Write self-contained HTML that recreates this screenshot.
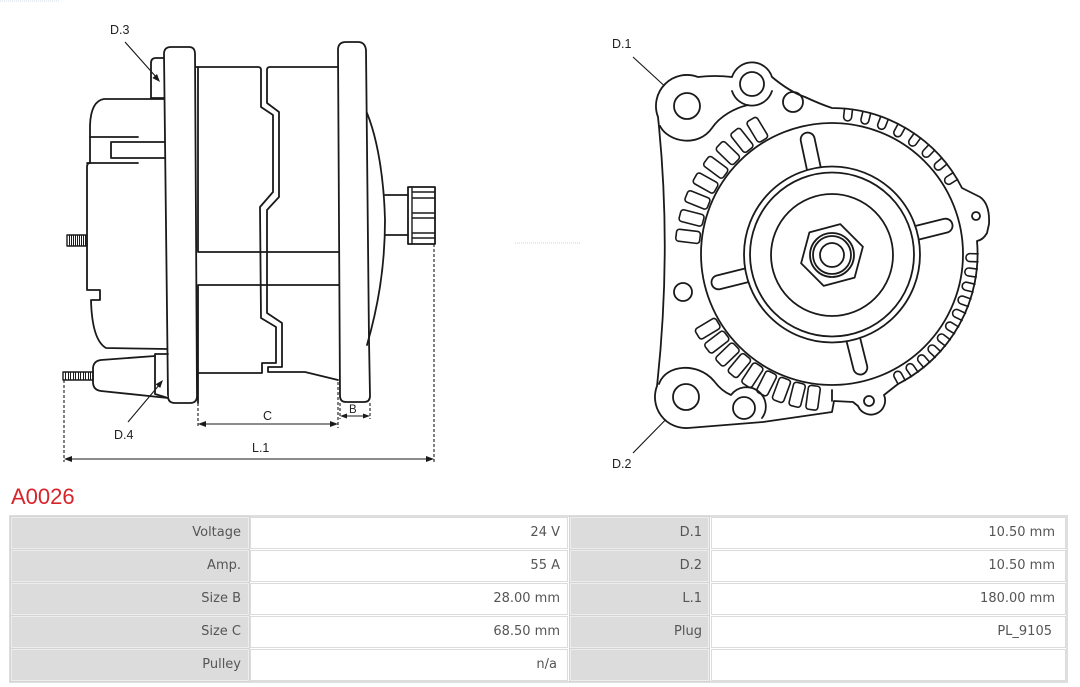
<!DOCTYPE html>
<html><head><meta charset="utf-8">
<style>
html,body{margin:0;padding:0;background:#fff;}
body{width:1080px;height:687px;position:relative;overflow:hidden;font-family:"DejaVu Sans","Liberation Sans",sans-serif;}
svg{position:absolute;left:0;top:0;}
.title{position:absolute;left:11px;top:484px;font:22px "Liberation Sans",sans-serif;color:#d8232a;line-height:26px;}
.tbl{position:absolute;left:9px;top:515px;width:1059px;height:168px;box-sizing:border-box;border:2px solid #dedede;}
.c{position:absolute;box-sizing:border-box;height:32px;line-height:30px;text-align:right;font-size:13px;color:#555;white-space:nowrap;}
.l{background:#dcdcdc;border:1px solid #ededed;box-shadow:0 0 0 1px #d4d4d4;}
.v{background:#fff;border:1px solid #dcdcdc;}
.c1{left:11px;width:238px;padding-right:7px;}
.c2{left:250px;width:318px;padding-right:7px;}
.c3{left:570px;width:139px;padding-right:6px;}
.c4{left:711px;width:355px;padding-right:10px;}
</style></head>
<body>
<svg width="1080" height="480" viewBox="0 0 1080 480" xmlns="http://www.w3.org/2000/svg">
<defs>
<path id="u" d="M978,250 L970,250 A4,4 0 0 0 970,258 L978,258"/>
<rect id="s" x="965" y="248" width="24" height="12" rx="3"/>
</defs>
<line x1="0" y1="1" x2="60" y2="1" stroke="#cfdbe6" stroke-width="1" stroke-dasharray="1 1"/>
<line x1="515" y1="243" x2="580" y2="243" stroke="#d0d0d0" stroke-width="1" stroke-dasharray="1 1"/>
<g fill="none" stroke="#1a1a1a" stroke-width="1.8" stroke-linejoin="round" stroke-linecap="round">
<!-- ===== SIDE VIEW ===== -->
<path d="M164,99 L104,99 Q91,101 90,125 L90,163"/>
<path d="M90,137 L138,137 M111,142 L165,142 M111,142 L111,158 L165,158 M87,163 L138,163"/>
<path d="M90,163 Q87,163 87,167 L87,290 L100,290 L100,300 L91,300 Q92,340 106,348 L168,349"/>
<path d="M164,58 L156,58 Q151,58 151,63 L151,98 L164,98"/>
<!-- top stud -->
<rect x="67" y="235" width="20" height="11" stroke-width="1.4" stroke-linecap="butt"/>
<path stroke-width="1" stroke-linecap="butt" d="M69.5,235V246M71.5,235V246M73.5,235V246M75.5,235V246M77.5,235V246M79.5,235V246M81.5,235V246M83.5,235V246M85.5,235V246"/>
<!-- stator -->
<path d="M198,67 L198,252 M198,252 L340,252 M198,285 L340,285 M198,285 L198,403"/>
<path d="M195,67 L258,67 Q261,67 261,70 L261,107 L273,115 L273,192 L260,207 L261,318 L276,327 L276,363 L262,363 L262,373 L198,373"/>
<path d="M338,67 L270,67 Q267,67 267,70 L267,103 L279,112 L279,197 L267,210 L267,313 L282,323 L282,367 L268,367 L268,372 L305,372 L338,380"/>
<path fill="#fff" d="M164,54 Q164,47 171,47 L189,47 Q195,47 195,54 L197,396 Q197,403 190,403 L175,403 Q168,403 168,396 Z"/>
<path fill="#fff" d="M338,50 Q338,42 346,42 L358,42 Q365,42 366,50 L369,340 L370,396 Q370,402 364,402 L346,402 Q340,402 340,396 Z"/>
<path d="M367,113 C378,140 384,180 385,220 C385,270 377,310 367,345"/>
<path d="M385,195 L408,195 M385,235 L408,235"/>
<rect x="408" y="187" width="27" height="57"/>
<path stroke-width="1.4" d="M412,187 L412,244 M412,192 L435,192 M412,198 L435,198 M412,213 L435,213 M412,218 L435,218 M412,233 L435,233 M412,238 L435,238"/>
<!-- bottom terminal -->
<path fill="#fff" d="M155,356 L101,360 Q93,361 93,369 L93,382 Q93,390 101,391 L168,398"/>
<path d="M155,354 L168,354 M155,354 L155,394 L168,398"/>
<rect x="63" y="372" width="30" height="8" stroke-width="1.4" stroke-linecap="butt"/>
<path stroke-width="1" stroke-linecap="butt" d="M65.5,372V380M68.5,372V380M70.5,372V380M73.5,372V380M75.5,372V380M78.5,372V380M80.5,372V380M83.5,372V380M85.5,372V380M88.5,372V380M90.5,372V380"/>
</g>
<g stroke="#1a1a1a" stroke-width="1.1" fill="none">
<path stroke-dasharray="3 2" d="M64,380 L64,462 M434,244 L434,462 M198,403 L198,428 M338,382 L338,428 M340,403 L340,419 M370,403 L370,419"/>
<path d="M66,459 L432,459 M200,424 L336,424 M342,416 L368,416"/>
<path d="M125,42 L157,78 M128,422 L160,384 M633,57 L682,102 M633,453 L682,403"/>
</g>
<g fill="#1a1a1a">
<polygon points="64,459 72,456 72,462"/><polygon points="434,459 426,456 426,462"/>
<polygon points="198,424 206,421 206,427"/><polygon points="338,424 330,421 330,427"/>
<polygon points="340,416 347,413.5 347,418.5"/><polygon points="370,416 363,413.5 363,418.5"/>
<polygon points="160,82 152.4,78 157,74"/>
<polygon points="163,380 160.2,388 155.6,384.2"/>
<polygon points="686,106 678.1,102.8 682.1,98.4"/>
<polygon points="686,399 682.5,406.8 678.3,402.6"/>
</g>
<g font-family="Liberation Sans, sans-serif" font-size="12.5" fill="#222">
<text x="110" y="34">D.3</text>
<text x="114" y="439">D.4</text>
<text x="263" y="420">C</text>
<text x="349" y="413" font-size="11.5">B</text>
<text x="252" y="452">L.1</text>
<text x="612" y="48">D.1</text>
<text x="612" y="468">D.2</text>
</g>
<!-- ===== FRONT VIEW ===== -->
<g fill="none" stroke="#1a1a1a" stroke-width="1.8" stroke-linejoin="round" stroke-linecap="round">
<path fill="#fff" d="M832,108 A146,146 0 0 1 962,188 L980,197 Q990,204 989,224 L987,233 Q983,240 977,241 A146,146 0 0 1 898,384 L884,395 A13,13 0 1 1 858,406 L853,402 L834,401 L832,412 L763,422 L688,428 A31,31 0 0 1 657,386 Q672,249 658,117 A31,31 0 0 1 698,77 Q715,75 732,77 A21,21 0 0 1 772,77 Q790,92 805,97 Q820,104 832,108 Z"/>
<g stroke-width="1.6">
<use href="#u" transform="rotate(-83.5 832 254)"/><use href="#u" transform="rotate(-76.2 832 254)"/>
<use href="#u" transform="rotate(-68.9 832 254)"/><use href="#u" transform="rotate(-61.5 832 254)"/>
<use href="#u" transform="rotate(-54.2 832 254)"/><use href="#u" transform="rotate(-46.9 832 254)"/>
<use href="#u" transform="rotate(-39.6 832 254)"/><use href="#u" transform="rotate(-32.3 832 254)"/>
<use href="#u" transform="rotate(1.5 832 254)"/><use href="#u" transform="rotate(7.5 832 254)"/>
<use href="#u" transform="rotate(13.5 832 254)"/><use href="#u" transform="rotate(19.5 832 254)"/>
<use href="#u" transform="rotate(25.5 832 254)"/><use href="#u" transform="rotate(31.5 832 254)"/>
<use href="#u" transform="rotate(37.5 832 254)"/><use href="#u" transform="rotate(43.5 832 254)"/>
<use href="#u" transform="rotate(49.5 832 254)"/><use href="#u" transform="rotate(55.5 832 254)"/>
<use href="#u" transform="rotate(61.5 832 254)"/>
</g>
<g stroke-width="1.6">
<use href="#s" transform="rotate(187 832 254)"/><use href="#s" transform="rotate(194.4 832 254)"/>
<use href="#s" transform="rotate(201.9 832 254)"/><use href="#s" transform="rotate(209.3 832 254)"/>
<use href="#s" transform="rotate(216.7 832 254)"/><use href="#s" transform="rotate(224.1 832 254)"/>
<use href="#s" transform="rotate(231.6 832 254)"/><use href="#s" transform="rotate(239 832 254)"/>
<use href="#s" transform="rotate(97.5 832 254)"/><use href="#s" transform="rotate(103.9 832 254)"/>
<use href="#s" transform="rotate(110.4 832 254)"/><use href="#s" transform="rotate(116.8 832 254)"/>
<use href="#s" transform="rotate(123.3 832 254)"/><use href="#s" transform="rotate(129.7 832 254)"/>
<use href="#s" transform="rotate(136.1 832 254)"/><use href="#s" transform="rotate(142.6 832 254)"/>
<use href="#s" transform="rotate(149 832 254)"/>
</g>
<circle cx="832" cy="254" r="131"/>
<rect id="k" x="912" y="247" width="44" height="14" rx="7" fill="#fff" transform="rotate(-14 832 254)"/>
<use href="#k" transform="rotate(-88 832 254)"/>
<use href="#k" transform="rotate(180 832 254)"/>
<use href="#k" transform="rotate(90 832 254)"/>
<circle cx="832" cy="254.5" r="88" fill="#fff"/>
<circle cx="832" cy="254.5" r="82"/>
<circle cx="832" cy="255" r="61"/>
<polygon points="801.1,263.3 809.4,232.4 840.3,224.1 862.9,246.7 854.6,277.6 823.7,285.9"/>
<circle cx="832" cy="255" r="22"/>
<circle cx="832" cy="255" r="19"/>
<circle cx="832" cy="255" r="12"/>
<path d="M660,126 C668,142 698,148 712,128 C720,116 735,108 748,105"/>
<path d="M732,91 A21,21 0 0 0 772,91"/>
<path d="M659,384 C666,364 698,362 714,381 C720,389 726,393 731,395 A19,19 0 0 1 762,418"/>
<path d="M832,401 L832,390"/>
<circle cx="687" cy="106" r="13"/>
<circle cx="752" cy="84" r="12"/>
<circle cx="793" cy="102" r="10"/>
<circle cx="683" cy="292" r="9"/>
<circle cx="686" cy="397" r="13"/>
<circle cx="744" cy="408" r="11"/>
<circle cx="869" cy="401" r="5"/>
<circle cx="976" cy="216" r="4"/>
</g>
</svg>

<div class="title">A0026</div>
<div class="tbl"></div>

<div class="c l c1" style="top:517px">Voltage</div>
<div class="c v c2" style="top:517px">24 V</div>
<div class="c l c3" style="top:517px">D.1</div>
<div class="c v c4" style="top:517px">10.50 mm</div>

<div class="c l c1" style="top:550px">Amp.</div>
<div class="c v c2" style="top:550px">55 A</div>
<div class="c l c3" style="top:550px">D.2</div>
<div class="c v c4" style="top:550px">10.50 mm</div>

<div class="c l c1" style="top:583px">Size B</div>
<div class="c v c2" style="top:583px">28.00 mm</div>
<div class="c l c3" style="top:583px">L.1</div>
<div class="c v c4" style="top:583px">180.00 mm</div>

<div class="c l c1" style="top:616px">Size C</div>
<div class="c v c2" style="top:616px">68.50 mm</div>
<div class="c l c3" style="top:616px">Plug</div>
<div class="c v c4" style="top:616px;padding-right:13px">PL_9105</div>

<div class="c l c1" style="top:649px">Pulley</div>
<div class="c v c2" style="top:649px;padding-right:10px">n/a</div>
<div class="c l c3" style="top:649px"></div>
<div class="c v c4" style="top:649px"></div>
</body></html>
